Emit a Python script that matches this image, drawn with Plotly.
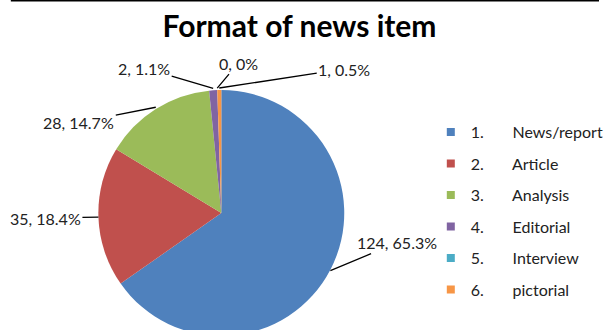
import math
import plotly.graph_objects as go

# ---------------- data ----------------
categories = ["News/report", "Article", "Analysis", "Editorial", "Interview", "pictorial"]
numbers = ["1.", "2.", "3.", "4.", "5.", "6."]
values = [124, 35, 28, 2, 0, 1]
colors = ["#4F81BD", "#C0504D", "#9BBB59", "#8064A2", "#4BACC6", "#F79646"]
title_text = "Format of news item"

# label placement offsets (pixels) relative to the slice's outer edge point
label_offsets = [(67, -28), (-53, 1), (-77, 15), (-69, -20), (21, -25), (125, -19)]

# ---------------- geometry ----------------
W, H = 609, 340
cx, cy, R = 225, 213, 125  # pie centre / radius in pixels (from top-left)

dom_x = [(cx - R) / W, (cx + R) / W]
dom_y = [1 - (cy + R) / H, 1 - (cy - R) / H]

fig = go.Figure()

fig.add_trace(go.Pie(
    labels=categories,
    values=values,
    marker=dict(colors=colors, line=dict(width=0)),
    sort=False,
    direction="clockwise",
    rotation=0,
    textinfo="none",
    hoverinfo="label+value+percent",
    showlegend=False,
    domain=dict(x=dom_x, y=dom_y),
))

# legend entries (square swatches)
for i, (num, cat, col) in enumerate(zip(numbers, categories, colors)):
    fig.add_trace(go.Scatter(
        x=[None], y=[None], mode="markers",
        marker=dict(symbol="square", size=8, color=col),
        name=f"{num}\u00a0\u00a0\u00a0\u00a0\u00a0\u00a0\u00a0{cat}",
        legendgroup=f"g{i}",
        showlegend=True,
        hoverinfo="skip",
    ))

# data labels with leader lines
total = sum(values)
cum = 0
annotations = []
for v, (ox, oy) in zip(values, label_offsets):
    mid = (cum + v / 2) / total * 2 * math.pi
    cum += v
    px = cx + R * math.sin(mid)
    py = cy - R * math.cos(mid)
    pct = round(100 * v / total, 1)
    annotations.append(dict(
        x=px / W, y=1 - py / H, xref="paper", yref="paper",
        text=f"{v}, {pct:g}%",
        showarrow=True, arrowhead=0, arrowwidth=1.3, arrowcolor="#000000",
        ax=ox, ay=oy, standoff=0, borderpad=1,
        font=dict(family="Lato", size=16, color="#222222"),
    ))

fig.update_layout(
    width=W, height=H,
    margin=dict(l=0, r=0, t=0, b=0),
    paper_bgcolor="white",
    plot_bgcolor="rgba(0,0,0,0)",
    title=dict(
        text=title_text, x=0.5, xanchor="center", xref="paper",
        y=1 - 26 / H, yanchor="middle", yref="paper",
        font=dict(family="Lato", size=30, color="#000000", weight="bold"),
    ),
    xaxis=dict(visible=False),
    yaxis=dict(visible=False),
    legend=dict(
        x=438 / W, y=1 - 115 / H, xanchor="left", yanchor="top",
        font=dict(family="Lato", size=16, color="#222222"),
        tracegroupgap=7.7, traceorder="grouped",
        bgcolor="rgba(0,0,0,0)",
    ),
    annotations=annotations,
    shapes=[dict(
        type="line", xref="paper", yref="paper",
        x0=11 / W, x1=1, y0=1 - 0.75 / H, y1=1 - 0.75 / H,
        line=dict(color="#000000", width=1.5),
    )],
)

fig.write_html(
    "out.html",
    config={"displayModeBar": False},
    post_script="document.body.style.margin='0';document.body.style.overflow='hidden';",
)
